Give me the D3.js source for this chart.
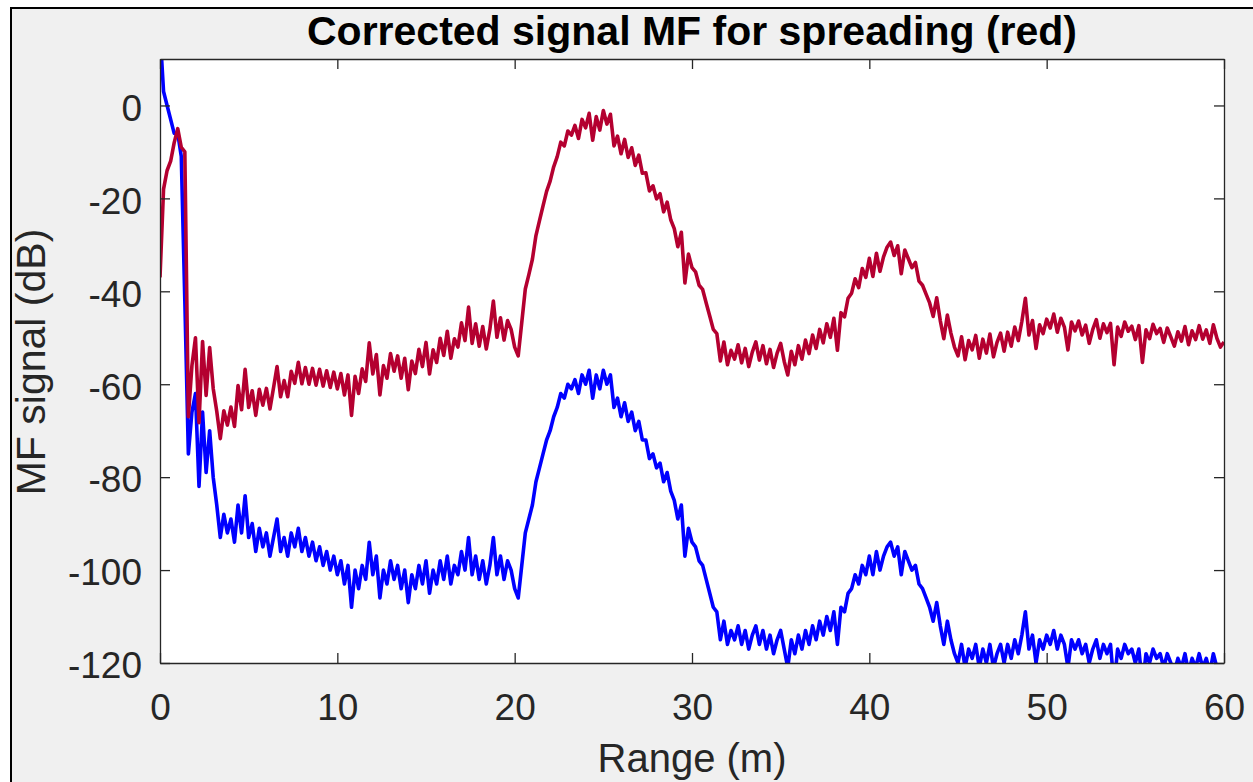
<!DOCTYPE html>
<html>
<head>
<meta charset="utf-8">
<script src="https://cdn.jsdelivr.net/npm/d3@7"></script>
<style>
  html, body { margin: 0; padding: 0; background: #ffffff; }
  svg { display: block; }
  text { font-family: "Liberation Sans", Arial, Helvetica, sans-serif; }
</style>
</head>
<body>
<svg id="chart" width="1253" height="782"></svg>
<script>
// ---------- data ----------
const chartTitle = "Corrected signal MF for spreading (red)";
const xLabel = "Range (m)";
const yLabel = "MF signal (dB)";
const xTicks = [0, 10, 20, 30, 40, 50, 60];
const yTicks = [-120, -100, -80, -60, -40, -20, 0];
const xDomain = [0, 60];
const yDomain = [-120, 10];
const rangeStep = 0.2; // m, sample spacing of both series

// raw matched-filter signal (blue), dB, one value every 0.2 m from 0 to 60 m
const rawSignal = [
  16, 3, 0, -3, -6, -6, -11, -42, -75, -66,
  -62, -82, -66, -79, -70, -80, -86, -93, -88, -92,
  -89, -94, -86, -92, -84, -93, -90, -96, -91, -95,
  -92, -97, -93, -89, -96, -93, -97, -92, -95, -91,
  -96, -93, -97, -94, -98, -95, -99, -96, -100, -97,
  -101, -98, -103, -99, -108, -100, -104, -99, -102, -94,
  -101, -97, -106, -100, -103, -98, -102, -99, -104, -100,
  -107, -101, -104, -99, -103, -98, -105, -100, -103, -98,
  -102, -97, -103, -99, -101, -96, -100, -93, -101, -97,
  -102, -98, -103, -99, -93, -101, -97, -102, -98, -100,
  -104, -106, -99, -92, -89, -86, -81, -78, -75, -72,
  -70, -67, -65, -62, -63, -60, -61, -59, -62, -58,
  -60, -57, -63, -58, -61, -57, -60, -58, -65, -63,
  -67, -64, -68, -66, -70, -68, -72, -72, -76, -75,
  -78, -77, -81, -79, -83, -85, -89, -86, -97, -91,
  -94, -95, -98, -99, -102, -105, -108, -109, -115, -111,
  -116, -113, -115, -112, -116, -113, -117, -114, -112, -116,
  -113, -117, -114, -118, -115, -113, -117, -121, -115, -118,
  -114, -117, -113, -116, -112, -115, -111, -114, -110, -113,
  -109, -116, -108, -109, -105, -104, -101, -103, -99, -101,
  -97, -101, -96, -100, -97, -95, -94, -97, -95, -101,
  -96, -98, -100, -99, -103, -104, -106, -108, -111, -107,
  -112, -116, -111, -115, -118, -120, -116, -121, -117, -119,
  -116, -121, -117, -120, -116, -121, -118, -116, -120, -116,
  -119, -115, -118, -114, -109, -117, -114, -120, -115, -117,
  -114, -116, -113, -117, -114, -116, -121, -115, -117, -115,
  -118, -116, -120, -117, -115, -119, -116, -118, -116, -125,
  -117, -119, -116, -118, -117, -120, -117, -125, -118, -120,
  -117, -119, -118, -121, -118, -120, -122, -119, -121, -118,
  -122, -119, -121, -118, -121, -119, -122, -118, -121, -123,
  -122
];

// spreading-corrected signal (red), dB, same sample positions
const correctedSignal = [
  -37, -18, -14, -12, -8, -5, -9, -10, -67, -56,
  -50, -68.3, -50.8, -62.4, -52.1, -60.9, -65.8, -71.7, -65.7, -68.8,
  -64.9, -69.1, -60.3, -65.5, -56.8, -65, -61.4, -66.7, -61.1, -64.5,
  -60.9, -65.3, -60.8, -56.2, -62.7, -59.2, -62.7, -57.2, -59.8, -55.3,
  -59.9, -56.4, -60, -56.6, -60.2, -56.8, -60.4, -57.1, -60.7, -57.4,
  -61, -57.7, -62.3, -58, -66.7, -58.3, -62, -56.7, -59.4, -51.1,
  -57.8, -53.6, -62.3, -56, -58.7, -53.4, -57.2, -53.9, -58.7, -54.4,
  -61.2, -55, -57.7, -52.5, -56.2, -51, -57.8, -52.6, -55.3, -50.1,
  -53.8, -48.6, -54.4, -50.2, -52, -46.8, -50.6, -43.4, -51.2, -47,
  -51.8, -47.6, -52.4, -48.2, -42.1, -49.9, -45.7, -50.5, -46.3, -48.2,
  -52, -53.9, -46.7, -39.5, -36.4, -33.1, -28, -24.8, -21.6, -18.5,
  -16.3, -13.2, -11, -7.9, -8.7, -5.5, -6.4, -4.3, -7.1, -3,
  -4.8, -1.7, -7.5, -2.4, -5.3, -1.1, -4, -1.9, -8.7, -6.6,
  -10.4, -7.3, -11.2, -9.1, -12.9, -10.7, -14.6, -14.5, -18.4, -17.3,
  -20.1, -19, -22.9, -20.8, -24.6, -26.5, -30.4, -27.3, -38.2, -32,
  -34.9, -35.8, -38.7, -39.6, -42.5, -45.3, -48.2, -49.1, -55, -50.9,
  -55.8, -52.7, -54.6, -51.5, -55.4, -52.3, -56.2, -53.1, -50.9, -54.8,
  -51.7, -55.6, -52.5, -56.4, -53.3, -51.2, -55.1, -58, -52.9, -55.8,
  -51.7, -54.6, -50.5, -53.4, -49.4, -52.3, -48.2, -51.1, -47, -49.9,
  -45.8, -52.7, -44.6, -45.5, -41.5, -40.4, -37.3, -39.2, -35.1, -37,
  -32.9, -36.8, -31.8, -35.7, -32.6, -30.5, -29.4, -32.3, -30.2, -36.2,
  -31.1, -33, -34.9, -33.8, -37.8, -38.7, -40.6, -42.5, -45.4, -41.4,
  -46.3, -50.2, -45.1, -49, -52, -53.9, -49.8, -54.7, -50.6, -52.6,
  -49.5, -54.4, -50.3, -53.3, -49.2, -54.1, -51, -49, -52.9, -48.8,
  -51.8, -47.7, -50.6, -46.5, -41.5, -49.4, -46.3, -52.3, -47.2, -49.1,
  -46, -47.9, -44.9, -48.8, -45.8, -47.7, -52.6, -46.6, -48.5, -46.4,
  -49.4, -47.3, -51.2, -48.2, -46.1, -50.1, -47, -48.9, -46.9, -55.8,
  -47.7, -49.7, -46.6, -48.6, -47.5, -50.4, -47.4, -55.3, -48.3, -50.2,
  -47.1, -49.1, -48, -51, -47.9, -49.8, -51.8, -48.7, -50.7, -47.6,
  -51.5, -48.5, -50.4, -47.4, -50.3, -48.3, -51.2, -47.2, -50.1, -52,
  -50.9
];

// ---------- layout ----------
const W = 1253, H = 782;
const plot = { left: 160, right: 1224, top: 59, bottom: 663 };
const textColor = "#262626";
const rawColor = "#0000ff";
const corrColor = "#b40030";
const fontStack = '"Liberation Sans", Arial, Helvetica, sans-serif';

const svg = d3.select("#chart");

// outer white + grey figure with black frame on left/top
svg.append("rect").attr("x", 0).attr("y", 0).attr("width", W).attr("height", H).attr("fill", "#ffffff");
svg.append("rect").attr("x", 11).attr("y", 8).attr("width", W + 10).attr("height", H + 10)
  .attr("fill", "#f0f0f0").attr("stroke", "#000").attr("stroke-width", 2);

const x = d3.scaleLinear().domain(xDomain).range([plot.left, plot.right]);
const y = d3.scaleLinear().domain(yDomain).range([plot.bottom, plot.top]);

// plot background
svg.append("rect").attr("x", plot.left).attr("y", plot.top)
  .attr("width", plot.right - plot.left).attr("height", plot.bottom - plot.top)
  .attr("fill", "#ffffff");

svg.append("clipPath").attr("id", "clip").append("rect")
  .attr("x", plot.left).attr("y", plot.top)
  .attr("width", plot.right - plot.left).attr("height", plot.bottom - plot.top);

const toPoints = vals => vals.map((v, i) => [i * rangeStep, v]);
const line = d3.line().x(d => x(d[0])).y(d => y(d[1]));

const g = svg.append("g").attr("clip-path", "url(#clip)");
g.append("path").datum(toPoints(rawSignal)).attr("d", line)
  .attr("fill", "none").attr("stroke", rawColor).attr("stroke-width", 3.6)
  .attr("stroke-linejoin", "round");
g.append("path").datum(toPoints(correctedSignal)).attr("d", line)
  .attr("fill", "none").attr("stroke", corrColor).attr("stroke-width", 3.6)
  .attr("stroke-linejoin", "round");

// axes (ticks inward on all four sides)
const plainFmt = d => String(d);
function styleAxis(sel) {
  sel.selectAll("path.domain").attr("stroke", textColor).attr("stroke-width", 1.3);
  sel.selectAll(".tick line").attr("stroke", textColor).attr("stroke-width", 1.3);
  sel.selectAll("text").attr("fill", textColor).style("font-size", "37px")
    .style("font-family", fontStack);
}

const xAxisB = svg.append("g").attr("transform", `translate(0,${plot.bottom})`)
  .call(d3.axisBottom(x).tickValues(xTicks).tickFormat(plainFmt)
    .tickSizeInner(-10).tickSizeOuter(0).tickPadding(0));
styleAxis(xAxisB);
xAxisB.selectAll("text").attr("y", 57).attr("dy", null);

const xAxisT = svg.append("g").attr("transform", `translate(0,${plot.top})`)
  .call(d3.axisTop(x).tickValues(xTicks).tickSizeInner(-10).tickSizeOuter(0).tickFormat(""));
styleAxis(xAxisT);

const yAxisL = svg.append("g").attr("transform", `translate(${plot.left},0)`)
  .call(d3.axisLeft(y).tickValues(yTicks).tickFormat(plainFmt)
    .tickSizeInner(-10).tickSizeOuter(0).tickPadding(18));
styleAxis(yAxisL);
yAxisL.selectAll("text").attr("dy", "0.4em");

const yAxisR = svg.append("g").attr("transform", `translate(${plot.right},0)`)
  .call(d3.axisRight(y).tickValues(yTicks).tickSizeInner(-10).tickSizeOuter(0).tickFormat(""));
styleAxis(yAxisR);

// title & labels
svg.append("text").attr("x", (plot.left + plot.right) / 2).attr("y", 45)
  .attr("text-anchor", "middle").attr("fill", "#000")
  .style("font-size", "41px").style("font-weight", "bold")
  .text(chartTitle);

svg.append("text").attr("x", (plot.left + plot.right) / 2).attr("y", 772)
  .attr("text-anchor", "middle").attr("fill", textColor)
  .style("font-size", "40px")
  .text(xLabel);

svg.append("text").attr("transform", `translate(45,362) rotate(-90)`)
  .attr("text-anchor", "middle").attr("fill", textColor)
  .style("font-size", "41px")
  .text(yLabel);
</script>
</body>
</html>
